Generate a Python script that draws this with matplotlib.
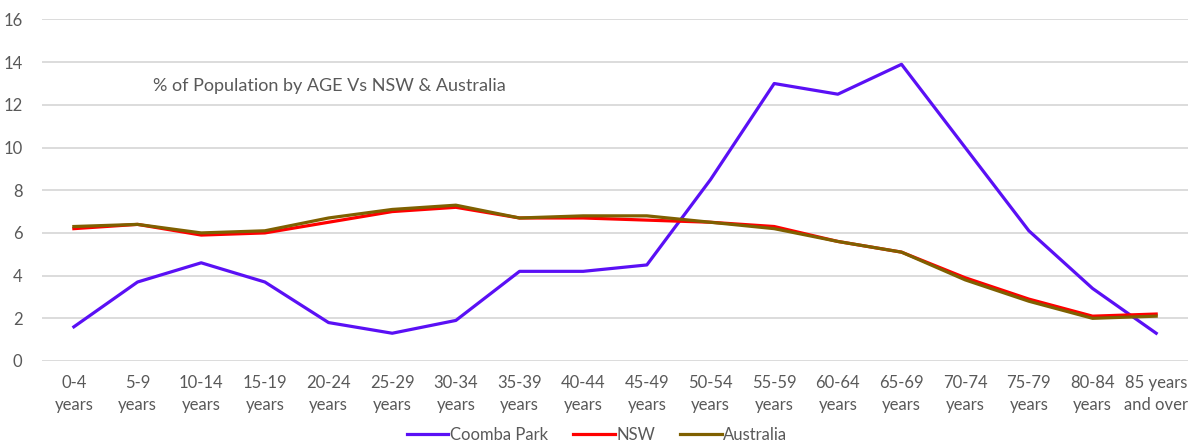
import numpy as np
import matplotlib
matplotlib.use("Agg")
import matplotlib.pyplot as plt

plt.rcParams['font.family'] = ['Lato', 'DejaVu Sans']

# age groups and % of population
ages = ['0-4\nyears', '5-9\nyears', '10-14\nyears', '15-19\nyears', '20-24\nyears',
        '25-29\nyears', '30-34\nyears', '35-39\nyears', '40-44\nyears', '45-49\nyears',
        '50-54\nyears', '55-59\nyears', '60-64\nyears', '65-69\nyears', '70-74\nyears',
        '75-79\nyears', '80-84\nyears', '85 years\nand over']
coomba = [1.6, 3.7, 4.6, 3.7, 1.8, 1.3, 1.9, 4.2, 4.2, 4.5,
          8.5, 13.0, 12.5, 13.9, 10.0, 6.1, 3.4, 1.3]
nsw = [6.2, 6.4, 5.9, 6.0, 6.5, 7.0, 7.2, 6.7, 6.7, 6.6,
       6.5, 6.3, 5.6, 5.1, 3.9, 2.9, 2.1, 2.2]
australia = [6.3, 6.4, 6.0, 6.1, 6.7, 7.1, 7.3, 6.7, 6.8, 6.8,
             6.5, 6.2, 5.6, 5.1, 3.8, 2.8, 2.0, 2.1]

txt = '#595959'
fig = plt.figure(figsize=(11.94, 4.45), dpi=100)
ax = fig.add_axes([0.0352, 0.1888, 0.9598, 0.7674])

x = np.arange(len(ages))
ax.plot(x, coomba, color='#5A10F5', lw=2.3, label='Coomba Park', solid_joinstyle='round')
ax.plot(x, nsw, color='#FF0000', lw=2.3, label='NSW', solid_joinstyle='round')
ax.plot(x, australia, color='#7F6000', lw=2.3, label='Australia', solid_joinstyle='round')

ax.set_xlim(-0.5, len(ages) - 0.5)
ax.set_ylim(0, 16)
ax.set_yticks(np.arange(0, 17, 2))
ax.set_xticks(x)
ax.set_xticklabels(ages, color=txt, fontsize=12, linespacing=1.45)
ax.tick_params(axis='y', labelcolor=txt, labelsize=12, length=0, pad=14)
ax.tick_params(axis='x', length=0, pad=10)
ax.grid(axis='y', color='#D9D9D9', lw=1.3)
ax.set_axisbelow(True)
for s in ax.spines.values():
    s.set_visible(False)

ax.text(0.097, 0.806, '% of Population by AGE Vs NSW & Australia', transform=ax.transAxes,
        color=txt, fontsize=13, va='center')

fig.legend(loc='center', bbox_to_anchor=(0.5, 0.022), ncol=3, frameon=False,
           fontsize=12, labelcolor=txt, handlelength=2.5, handletextpad=0.1,
           columnspacing=1.5, borderpad=0.2)

fig.savefig('out.png', dpi=100)
